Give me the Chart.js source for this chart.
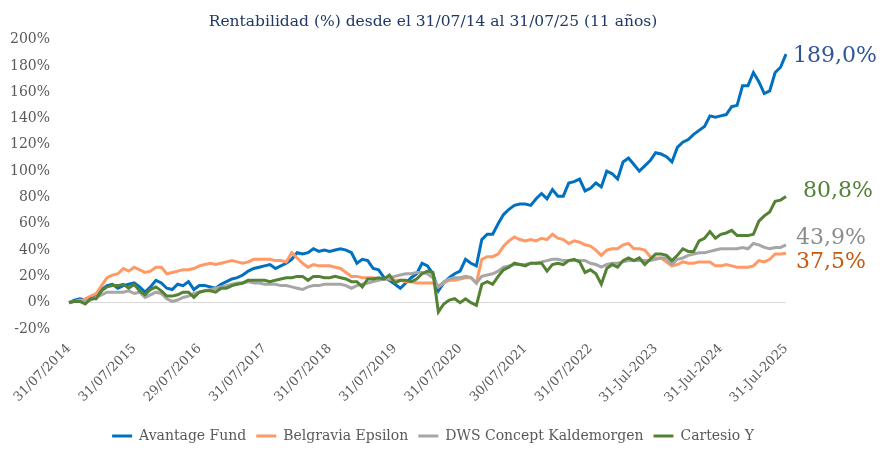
<!DOCTYPE html>
<html>
<head>
<meta charset="utf-8">
<script src="https://cdn.jsdelivr.net/npm/chart.js@4.4.1/dist/chart.umd.min.js"></script>
<style>
  html, body { margin: 0; padding: 0; background: #fff; }
  #wrap { width: 886px; height: 453px; }
</style>
</head>
<body>
<div id="wrap"><canvas id="rentChart"></canvas></div>
<script>
// yearly tick labels, one every 12 monthly points
const tickLabels = ["31/07/2014", "31/07/2015", "29/07/2016", "31/07/2017", "31/07/2018", "31/07/2019",
    "31/07/2020", "30/07/2021", "31/07/2022", "31-Jul-2023", "31-Jul-2024", "31-Jul-2025"];

const seriesNames = ["Avantage Fund", "Belgravia Epsilon", "DWS Concept Kaldemorgen", "Cartesio Y"];

// monthly cumulative return (%), 31/07/2014 .. 31/07/2025
const avantage = [
    0, 2, 3, 2, 4, 6, 10, 13, 14, 11,
    13, 14, 15, 12, 8, 12, 17, 15, 11, 10,
    14, 13, 16, 10, 13, 13, 12, 11, 14, 16,
    18, 19, 21, 24, 26, 27, 28, 29, 26, 28,
    30, 33, 38, 37, 38, 41, 39, 40, 39, 40,
    41, 40, 38, 30, 33, 32, 26, 25, 19, 17,
    14, 11, 15, 19, 22, 30, 28, 22, 9, 15,
    19, 22, 24, 33, 30, 28, 48, 52, 52, 60,
    67, 71, 74, 75, 75, 74, 79, 83, 79, 86,
    81, 81, 91, 92, 94, 85, 87, 91, 88, 100,
    98, 94, 107, 110, 105, 100, 104, 108, 114, 113,
    111, 107, 118, 122, 124, 128, 131, 134, 142, 141,
    142, 143, 149, 150, 165, 165, 175, 168, 159, 161,
    175, 179, 189.0
];
const belgravia = [
    0, 1, 1, 3, 5, 7, 13, 19, 21, 22,
    26, 24, 27, 25, 23, 24, 27, 27, 22, 23,
    24, 25, 25, 26, 28, 29, 30, 29, 30, 31,
    32, 31, 30, 31, 33, 33, 33, 33, 32, 32,
    31, 38, 34, 30, 27, 29, 28, 28, 28, 27,
    26, 23, 20, 20, 19, 19, 19, 18, 18, 18,
    17, 17, 16, 16, 15, 15, 15, 15, 12, 15,
    17, 17, 18, 19, 19, 15, 33, 35, 35, 37,
    43, 47, 50, 48, 47, 48, 47, 49, 48, 52,
    49, 48, 45, 47, 46, 44, 43, 40, 36, 40,
    41, 41, 44, 45, 41, 41, 40, 35, 34, 34,
    31, 28, 29, 31, 30, 30, 31, 31, 31, 28,
    28, 29, 28, 27, 27, 27, 28, 32, 31, 33,
    37, 37, 37.5
];
const dws = [
    0, 1, 2, 1, 2, 4, 6, 8, 8, 8,
    8, 9, 7, 8, 4, 6, 8, 7, 3, 1,
    2, 4, 5, 7, 8, 9, 10, 11, 12, 13,
    14, 15, 15, 16, 15, 15, 14, 14, 14, 13,
    13, 12, 11, 10, 12, 13, 13, 14, 14, 14,
    14, 13, 11, 13, 14, 15, 16, 17, 18, 19,
    20, 21, 22, 22, 23, 23, 22, 19, 12, 16,
    18, 19, 19, 20, 19, 15, 20, 21, 22, 24,
    27, 28, 29, 29, 29, 30, 30, 31, 32, 33,
    33, 32, 32, 32, 32, 32, 30, 29, 27, 29,
    30, 30, 31, 32, 32, 32, 32, 32, 33, 34,
    34, 29, 33, 34, 36, 37, 38, 38, 39, 40,
    41, 41, 41, 41, 42, 41, 45, 44, 42, 41,
    42, 42, 43.9
];
const cartesio = [
    0, 1, 1, -1, 3, 3, 9, 12, 13, 13,
    14, 11, 14, 9, 6, 10, 12, 9, 5, 5,
    6, 8, 8, 4, 8, 9, 9, 8, 11, 11,
    13, 14, 15, 17, 17, 17, 17, 16, 17, 18,
    19, 19, 20, 20, 17, 20, 20, 19, 19, 20,
    19, 18, 16, 16, 12, 18, 18, 19, 18, 21,
    15, 17, 17, 16, 18, 22, 24, 23, -7, -1,
    2, 3, 0, 3, 0, -2, 14, 16, 14, 20,
    25, 27, 30, 29, 28, 30, 30, 30, 24, 29,
    30, 29, 32, 33, 31, 23, 25, 22, 14, 26,
    29, 27, 32, 34, 32, 34, 29, 33, 37, 37,
    36, 32, 36, 41, 39, 39, 47, 49, 54, 49,
    52, 53, 55, 51, 51, 51, 52, 62, 66, 69,
    77, 78, 80.8
];

const finalLabels = ["189,0%", "37,5%", "43,9%", "80,8%"];

const lineColors = ["#0070c0", "#ff9966", "#a6a6a6", "#548235"];
const labelColors = ["#2f5597", "#c55a11", "#8c8c8c", "#538135"];
const labelOffsets = [[7, 2], [10, 9], [10, -7], [17, -5]];

const FONT = "'DejaVu Serif', 'Liberation Serif', serif";

// category per month, only the yearly ones carry text
const categories = avantage.map((v, i) => i % 12 === 0 ? tickLabels[i / 12] : "");

/* ========== END OF LINE LABELS ========== */
const endLabels = {
    id: "endLabels",
    afterDraw(chart) {
        const ctx = chart.ctx;
        ctx.save();
        ctx.font = "22px " + FONT;
        ctx.textBaseline = "middle";
        ctx.textAlign = "left";
        chart.data.datasets.forEach((ds, i) => {
            const pts = chart.getDatasetMeta(i).data;
            const last = pts[pts.length - 1];
            ctx.fillStyle = labelColors[i];
            ctx.fillText(finalLabels[i], last.x + labelOffsets[i][0], last.y + labelOffsets[i][1]);
        });
        ctx.restore();
    }
};

const allSeries = [avantage, belgravia, dws, cartesio];

const ctx = document.getElementById("rentChart").getContext("2d");
new Chart(ctx, {
    type: "line",
    data: {
        labels: categories,
        datasets: allSeries.map((d, i) => ({
            label: seriesNames[i],
            data: d,
            borderColor: lineColors[i],
            backgroundColor: lineColors[i],
            borderWidth: 3,
            pointRadius: 0,
            tension: 0,
            order: 4 - i
        }))
    },
    options: {
        responsive: true,
        maintainAspectRatio: false,
        animation: false,
        layout: { padding: { left: 0, right: 20, top: 0, bottom: 0 } },
        plugins: {
            title: {
                display: true,
                text: "Rentabilidad (%) desde el 31/07/14 al 31/07/25 (11 años)",
                color: "#1f3864",
                font: { family: FONT, size: 15.5, weight: "normal" },
                padding: { top: 13, bottom: 8 }
            },
            legend: {
                position: "bottom",
                labels: {
                    usePointStyle: true,
                    pointStyle: "line",
                    pointStyleWidth: 20,
                    color: "#595959",
                    font: { family: FONT, size: 14 },
                    padding: 10,
                    sort: (a, b) => a.datasetIndex - b.datasetIndex
                }
            },
            tooltip: { enabled: false }
        },
        scales: {
            x: {
                grid: { display: false },
                border: { display: false },
                ticks: {
                    autoSkip: false,
                    minRotation: 45,
                    maxRotation: 45,
                    padding: 4,
                    color: "#595959",
                    font: { family: FONT, size: 13 }
                },
                afterFit: s => { s.height = 90; }
            },
            y: {
                min: -20,
                max: 200,
                ticks: {
                    stepSize: 20,
                    padding: 19,
                    color: "#595959",
                    font: { family: FONT, size: 14 },
                    callback: v => v + "%"
                },
                grid: {
                    drawTicks: false,
                    color: c => c.tick && c.tick.value === 0 ? "#d9d9d9" : "rgba(0,0,0,0)"
                },
                border: { display: false },
                afterFit: s => { s.width = 69; }
            },
            yRight: {
                position: "right",
                display: true,
                ticks: { display: false },
                grid: { display: false },
                border: { display: false },
                afterFit: s => { s.width = 80; }
            }
        }
    },
    plugins: [endLabels]
});
</script>
</body>
</html>
